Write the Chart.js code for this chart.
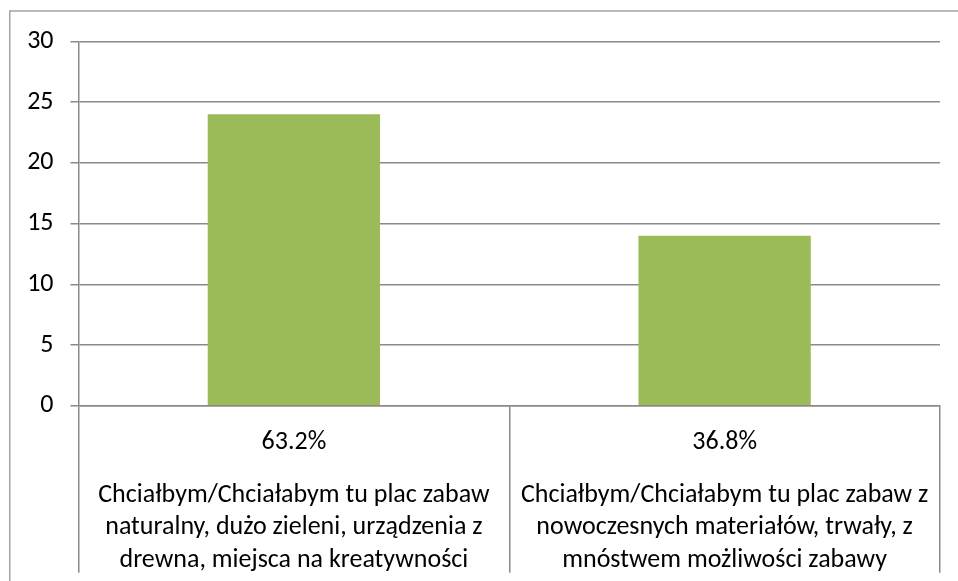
<!DOCTYPE html>
<html>
<head>
<meta charset="utf-8">
<script src="https://cdn.jsdelivr.net/npm/chart.js@4/dist/chart.umd.min.js"></script>
<style>
  html, body { margin: 0; padding: 0; background: #fff; overflow: hidden; }
  #wrap { position: relative; width: 958px; height: 581px; }
</style>
</head>
<body>
<div id="wrap"><canvas id="c" width="958" height="581"></canvas></div>
<script>
// ---- data ----
const percentLabels = ['63.2%', '36.8%'];
const categoryLines = [
  ['Chciałbym/Chciałabym tu plac zabaw', 'naturalny, dużo zieleni, urządzenia z', 'drewna, miejsca na kreatywności'],
  ['Chciałbym/Chciałabym tu plac zabaw z', 'nowoczesnych materiałów, trwały, z', 'mnóstwem możliwości zabawy']
];
const counts = [24, 14];
const yTicks = { min: 0, max: 30, step: 5 };

const FONT = '"Carlito", "Lato", "Open Sans", sans-serif';
const GRID = '#8a8a8a';

const outerBorder = {
  id: 'outerBorder',
  beforeDraw(chart) {
    const ctx = chart.ctx;
    ctx.save();
    ctx.strokeStyle = '#a3a3a3';
    ctx.lineWidth = 1.5;
    ctx.beginPath();
    ctx.moveTo(9.75, 600);
    ctx.lineTo(9.75, 11);
    ctx.lineTo(1000, 11);
    ctx.stroke();
    ctx.restore();
  }
};

new Chart(document.getElementById('c'), {
  type: 'bar',
  data: {
    labels: percentLabels,
    datasets: [{
      data: counts,
      backgroundColor: '#9BBB59',
      borderWidth: 0,
      categoryPercentage: 1.0,
      barPercentage: 0.4,
      xAxisID: 'x',
      yAxisID: 'y'
    }]
  },
  options: {
    responsive: false,
    animation: false,
    layout: { padding: { top: 41.5, right: 18, bottom: 0, left: 0 } },
    plugins: { legend: { display: false }, tooltip: { enabled: false } },
    scales: {
      y: {
        min: yTicks.min, max: yTicks.max,
        ticks: { stepSize: yTicks.step, padding: 17, color: '#000', font: { family: FONT, size: 26 } },
        grid: { color: GRID, lineWidth: 1.5, drawTicks: true, tickLength: 8 },
        border: { display: true, color: GRID, width: 1.5 },
        afterFit(s) { s.width = 78.5; }
      },
      x: {
        position: 'bottom',
        weight: 0,
        offset: true,
        ticks: { padding: -146.3, color: '#000', font: { family: FONT, size: 26, lineHeight: 1.2 }, maxRotation: 0, autoSkip: false },
        grid: { offset: true, drawOnChartArea: false, drawTicks: true, tickLength: 167, color: GRID, lineWidth: 1.5 },
        border: { display: true, color: GRID, width: 1.5 },
        afterFit(s) { s.height = 50; }
      },
      x2: {
        type: 'category',
        labels: categoryLines,
        position: 'bottom',
        weight: 1,
        offset: true,
        ticks: { padding: 23.5, color: '#000', font: { family: FONT, size: 26, lineHeight: 1.25 }, maxRotation: 0, autoSkip: false },
        grid: { display: false, drawTicks: false },
        border: { display: false },
        afterFit(s) { s.height = 125.3; }
      }
    }
  },
  plugins: [outerBorder]
});
</script>
</body>
</html>
